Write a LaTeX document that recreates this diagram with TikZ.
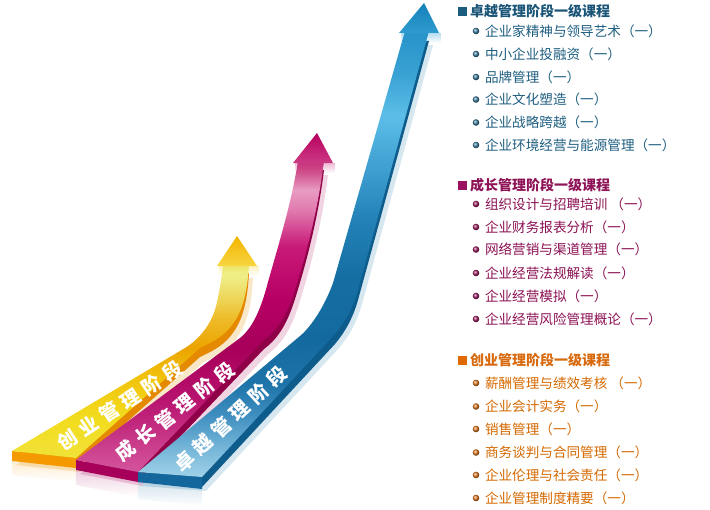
\documentclass[tikz,border=0pt]{standalone}
\usepackage{fontspec}
\newfontfamily\cjk{Noto Sans CJK SC}
\newfontfamily\cjkband[LetterSpace=30]{Noto Sans CJK SC}
\usetikzlibrary{fadings}

\definecolor{ybA}{HTML}{F0E238}
\definecolor{ybB}{HTML}{F2DC1E}
\definecolor{ybC}{HTML}{F1C40C}
\definecolor{ybD}{HTML}{ECA400}
\definecolor{ybE}{HTML}{EEBB28}
\definecolor{ybF}{HTML}{EEDC66}
\definecolor{ybG}{HTML}{EEF290}
\definecolor{ybH}{HTML}{EAEA7A}
\definecolor{mbA}{HTML}{D4559C}
\definecolor{mbB}{HTML}{C83888}
\definecolor{mbC}{HTML}{B8126F}
\definecolor{mbD}{HTML}{A6005A}
\definecolor{mbE}{HTML}{B80065}
\definecolor{mbF}{HTML}{C81A78}
\definecolor{mbG}{HTML}{E078AD}
\definecolor{mbH}{HTML}{E89CC2}
\definecolor{mbI}{HTML}{D2558F}
\definecolor{mbJ}{HTML}{C43078}
\definecolor{bbA}{HTML}{A0D2E8}
\definecolor{bbB}{HTML}{70B2D6}
\definecolor{bbC}{HTML}{3F8EC0}
\definecolor{bbD}{HTML}{1E74A8}
\definecolor{bbE}{HTML}{136A9E}
\definecolor{bbF}{HTML}{156EA2}
\definecolor{bbG}{HTML}{2482B8}
\definecolor{bbH}{HTML}{45A6D6}
\definecolor{bbI}{HTML}{5CBEE8}
\definecolor{bbJ}{HTML}{3BA3D4}
\definecolor{bbK}{HTML}{2592C8}
\definecolor{yside}{HTML}{E58A00}
\definecolor{mside}{HTML}{900048}
\definecolor{bside}{HTML}{0E5C8C}
\definecolor{yface}{HTML}{F49A00}
\definecolor{mface}{HTML}{A6005A}
\definecolor{bface}{HTML}{13679C}
\definecolor{yshadow}{HTML}{F8E8C8}
\definecolor{mshadow}{HTML}{F0D4E2}
\definecolor{bshadow}{HTML}{D6E7F0}
\definecolor{yheadtop}{HTML}{F2B400}
\definecolor{yheadbot}{HTML}{F7D640}
\definecolor{mheadtop}{HTML}{B8005E}
\definecolor{mheadbot}{HTML}{CC3A84}
\definecolor{bheadtop}{HTML}{1480B8}
\definecolor{bheadbot}{HTML}{2E9CD0}
\definecolor{bluetext}{HTML}{1E5E80}
\definecolor{bluehead}{HTML}{1A5578}
\definecolor{magtext}{HTML}{8B1153}
\definecolor{maghead}{HTML}{8E1457}
\definecolor{orgtext}{HTML}{D46800}
\definecolor{orghead}{HTML}{D8690C}
\definecolor{bluesqc}{HTML}{1A5C80}
\definecolor{magsqc}{HTML}{9A1260}
\definecolor{orgsqc}{HTML}{E06A00}
\definecolor{bluebul}{HTML}{3A7FA0}
\definecolor{magbul}{HTML}{A01E62}
\definecolor{orgbul}{HTML}{E47A20}

\pgfdeclareverticalshading{yellowband}{100bp}{color(0bp)=(ybA); color(25bp)=(ybA); color(35bp)=(ybB); color(45.5bp)=(ybC); color(53.4bp)=(ybD); color(60.8bp)=(ybE); color(67.6bp)=(ybF); color(72.9bp)=(ybG); color(75bp)=(ybH); color(100bp)=(ybH)}
\pgfdeclareverticalshading{magentaband}{100bp}{color(0bp)=(mbA); color(25bp)=(mbA); color(30.2bp)=(mbB); color(36.8bp)=(mbC); color(44.9bp)=(mbD); color(53.1bp)=(mbE); color(61.3bp)=(mbF); color(67bp)=(mbG); color(70.3bp)=(mbH); color(73bp)=(mbI); color(75bp)=(mbJ); color(100bp)=(mbJ)}
\pgfdeclareverticalshading{blueband}{100bp}{color(0bp)=(bbA); color(25bp)=(bbA); color(28.6bp)=(bbB); color(32bp)=(bbC); color(35.4bp)=(bbD); color(40.5bp)=(bbE); color(47.3bp)=(bbF); color(54.1bp)=(bbG); color(60.9bp)=(bbH); color(65.5bp)=(bbI); color(70bp)=(bbJ); color(75bp)=(bbK); color(100bp)=(bbK)}

\newcommand\yellowbody{(12,451) -- (185,348) .. controls (201,338) and (213,322) .. (217,302) .. controls (220,288) and (222,276) .. (223,264) -- (249,264) .. controls (247,300) and (240,318) .. (226,332) .. controls (216,341) and (208,344) .. (200,348) -- (76,458) -- cycle}
\newcommand\magentabody{(76,460) -- (240,338) .. controls (254,327) and (262,305) .. (268,282) .. controls (280,240) and (292,200) .. (298,161) -- (324,161) .. controls (318,210) and (306,255) .. (295,290) .. controls (288,312) and (280,328) .. (264,340) -- (138,472) -- cycle}
\newcommand\bluebody{(138,472) -- (300,336) .. controls (312,326) and (325,305) .. (333,283) -- (405,31) -- (429,31) -- (358,290) .. controls (353,308) and (345,322) .. (335,334) -- (202,477) -- cycle}

\tikzstyle{every node}=[inner sep=0pt,outer sep=0pt]
\tikzstyle{headtext}=[anchor=west,font=\cjk\bfseries\fontsize{10.5}{12}\selectfont]
\tikzstyle{itemtext}=[anchor=west,font=\cjk\fontsize{10.2}{12}\selectfont]
\tikzstyle{bandtext}=[font=\cjkband\bfseries\fontsize{14.5}{18}\selectfont,text=white]
\tikzstyle{reflect}=[opacity=.18,path fading=south]

\begin{document}
\begin{tikzpicture}[x=0.75pt,y=-0.75pt]
	\useasboundingbox (0,0) rectangle (710,510);
	\fill[yshadow] [shift={(4,14)}] \yellowbody;
	\fill[yface,reflect] (12,461) -- (76,468) -- (76,482) -- (12,475) -- cycle;
	\fill[yside] [shift={(0,9)}] \yellowbody;
	\fill[yface] (12,451) -- (76,458) -- (76,468) -- (12,461) -- cycle;
	\shade[shading=yellowband] \yellowbody;
	\fill[yheadbot,opacity=.35,path fading=south] (219,266) -- (259,266) -- (259,276) -- (219,276) -- cycle;
	\shade[top color=yheadtop,bottom color=yheadbot] (217,266) -- (237,236) -- (257,266) -- cycle;
	\fill[mshadow] [shift={(4,14)}] \magentabody;
	\fill[mface,reflect] (76,470) -- (138,482) -- (138,497) -- (76,485) -- cycle;
	\fill[mside] [shift={(0,9)}] \magentabody;
	\fill[mface] (76,460) -- (138,472) -- (138,482) -- (76,470) -- cycle;
	\shade[shading=magentaband] \magentabody;
	\fill[mheadbot,opacity=.35,path fading=south] (295,163) -- (335,163) -- (335,173) -- (295,173) -- cycle;
	\shade[top color=mheadtop,bottom color=mheadbot] (293,163) -- (317,133) -- (333,163) -- cycle;
	\fill[bshadow] [shift={(4,14)}] \bluebody;
	\fill[bface,reflect] (138,482) -- (202,489) -- (202,506) -- (138,499) -- cycle;
	\fill[bside] [shift={(0,10)}] \bluebody;
	\fill[bface] (138,472) -- (202,477) -- (202,489) -- (138,482) -- cycle;
	\shade[shading=blueband] \bluebody;
	\fill[bheadbot,opacity=.35,path fading=south] (401,33) -- (441,33) -- (441,43) -- (401,43) -- cycle;
	\shade[top color=bheadtop,bottom color=bheadbot] (399,33) -- (424,3) -- (439,33) -- cycle;

	\node[bandtext,rotate=33.3] (startBand) at (120,405.5) {创业管理阶段};
	\node[bandtext,rotate=38.6] (growBand) at (175,411.5) {成长管理阶段};
	\node[bandtext,rotate=42.8] (excelBand) at (230.5,419) {卓越管理阶段};

	\fill[bluesqc] (458,7) rectangle (467,16);
	\node[headtext,text=bluehead] (excelHead) at (470,11.5) {卓越管理阶段一级课程};
	\shade[ball color=bluebul] (476,31) circle (3.3);
	\shade[ball color=bluebul] (476,54) circle (3.3);
	\shade[ball color=bluebul] (476,77) circle (3.3);
	\shade[ball color=bluebul] (476,99.5) circle (3.3);
	\shade[ball color=bluebul] (476,122.5) circle (3.3);
	\shade[ball color=bluebul] (476,145) circle (3.3);
	\node[itemtext,text=bluetext] (excel1) at (485,31) {企业家精神与领导艺术（一）};
	\node[itemtext,text=bluetext] (excel2) at (485,54) {中小企业投融资（一）};
	\node[itemtext,text=bluetext] (excel3) at (485,77) {品牌管理（一）};
	\node[itemtext,text=bluetext] (excel4) at (485,99.5) {企业文化塑造（一）};
	\node[itemtext,text=bluetext] (excel5) at (485,122.5) {企业战略跨越（一）};
	\node[itemtext,text=bluetext] (excel6) at (485,145) {企业环境经营与能源管理（一）};

	\fill[magsqc] (458,180.5) rectangle (467,189.5);
	\node[headtext,text=maghead] (growHead) at (470,185) {成长管理阶段一级课程};
	\shade[ball color=magbul] (476,204) circle (3.3);
	\shade[ball color=magbul] (476,227) circle (3.3);
	\shade[ball color=magbul] (476,249.5) circle (3.3);
	\shade[ball color=magbul] (476,273) circle (3.3);
	\shade[ball color=magbul] (476,296) circle (3.3);
	\shade[ball color=magbul] (476,319) circle (3.3);
	\node[itemtext,text=magtext] (grow1) at (485,204) {组织设计与招聘培训 （一）};
	\node[itemtext,text=magtext] (grow2) at (485,227) {企业财务报表分析（一）};
	\node[itemtext,text=magtext] (grow3) at (485,249.5) {网络营销与渠道管理（一）};
	\node[itemtext,text=magtext] (grow4) at (485,273) {企业经营法规解读（一）};
	\node[itemtext,text=magtext] (grow5) at (485,296) {企业经营模拟（一）};
	\node[itemtext,text=magtext] (grow6) at (485,319) {企业经营风险管理概论（一）};

	\fill[orgsqc] (458,355.5) rectangle (467,364.5);
	\node[headtext,text=orghead] (startHead) at (470,360) {创业管理阶段一级课程};
	\shade[ball color=orgbul] (476,383) circle (3.3);
	\shade[ball color=orgbul] (476,406.5) circle (3.3);
	\shade[ball color=orgbul] (476,429) circle (3.3);
	\shade[ball color=orgbul] (476,452.5) circle (3.3);
	\shade[ball color=orgbul] (476,475) circle (3.3);
	\shade[ball color=orgbul] (476,498) circle (3.3);
	\node[itemtext,text=orgtext] (start1) at (485,383) {薪酬管理与绩效考核 （一）};
	\node[itemtext,text=orgtext] (start2) at (485,406.5) {企业会计实务（一）};
	\node[itemtext,text=orgtext] (start3) at (485,429) {销售管理（一）};
	\node[itemtext,text=orgtext] (start4) at (485,452.5) {商务谈判与合同管理（一）};
	\node[itemtext,text=orgtext] (start5) at (485,475) {企业伦理与社会责任（一）};
	\node[itemtext,text=orgtext] (start6) at (485,498) {企业管理制度精要（一）};
\end{tikzpicture}
\end{document}
